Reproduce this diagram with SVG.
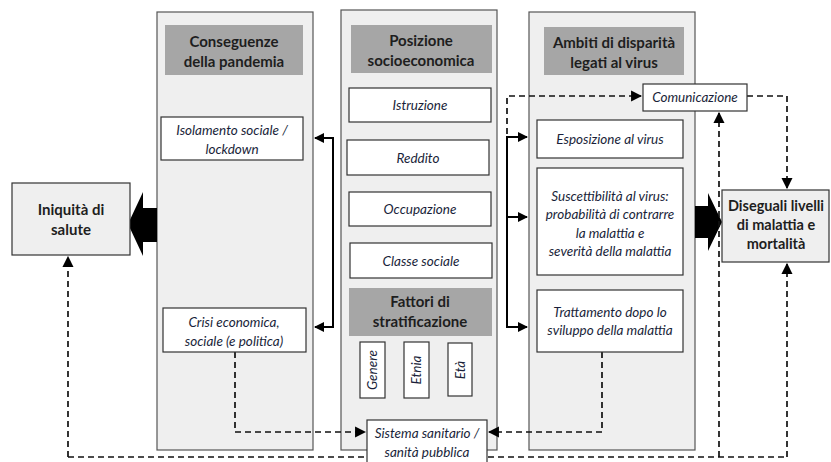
<svg xmlns="http://www.w3.org/2000/svg" width="831" height="462" viewBox="0 0 831 462">
<style>
.col{fill:#efefef;stroke:#555;stroke-width:1.2}
.hdr{fill:#a6a6a6;stroke:none}
.box{fill:#fff;stroke:#333;stroke-width:1.2}
.gbox{fill:#efefef;stroke:#333;stroke-width:1.2}
.ht{font-family:Lato,"Liberation Sans",sans-serif;font-weight:bold;font-size:15px;fill:#1e1e1e;text-anchor:middle}
.it{font-family:Lato,"Liberation Sans",sans-serif;font-style:italic;font-size:13.5px;fill:#1a1f3a;text-anchor:middle}
.sol{fill:none;stroke:#000;stroke-width:2}
.dash{fill:none;stroke:#111;stroke-width:1.7;stroke-dasharray:6,4}
</style>
<defs>
<marker id="ah" viewBox="0 0 10 10" refX="9" refY="5" markerWidth="5" markerHeight="5" orient="auto" markerUnits="strokeWidth">
<path d="M0,0 L10,5 L0,10 z" fill="#000"/>
</marker>
<marker id="dh" viewBox="0 0 10 10" refX="9" refY="5" markerWidth="6.5" markerHeight="6.5" orient="auto" markerUnits="strokeWidth">
<path d="M0,0 L10,5 L0,10 z" fill="#000"/>
</marker>
</defs>
<rect width="831" height="462" fill="#fff"/>

<g id="col1">
<rect class="col" x="157" y="12" width="156" height="438"/>
<rect class="hdr" x="165" y="25" width="138" height="50"/>
<text class="ht" x="234" y="47">Conseguenze</text>
<text class="ht" x="234" y="67">della pandemia</text>
</g>
<g id="col2">
<rect class="col" x="341" y="10" width="156" height="440"/>
<rect class="hdr" x="351" y="25" width="141" height="48"/>
<text class="ht" x="421" y="46">Posizione</text>
<text class="ht" x="421" y="66">socioeconomica</text>
</g>
<g id="col3">
<rect class="col" x="529" y="12" width="166" height="438"/>
<rect class="hdr" x="544" y="27" width="140" height="48"/>
<text class="ht" x="614" y="48">Ambiti di disparità</text>
<text class="ht" x="614" y="68">legati al virus</text>
</g>

<g id="connectors">
<polygon points="157,208 143,208 143,192 128,224 143,256 143,242 157,242" fill="#000"/>
<polygon points="695,206 708,206 708,193 722,222 708,251 708,238 695,238" fill="#000"/>
<path class="sol" d="M333,138 V327"/>
<path class="sol" d="M334,138 H315" marker-end="url(#ah)"/>
<path class="sol" d="M334,327 H315" marker-end="url(#ah)"/>
<path class="sol" d="M507,137 V327"/>
<path class="sol" d="M506,137 H527" marker-end="url(#ah)"/>
<path class="sol" d="M507,217 H527" marker-end="url(#ah)"/>
<path class="sol" d="M506,327 H527" marker-end="url(#ah)"/>
<path class="dash" d="M507,134 V96 H641" marker-end="url(#dh)"/>
<path class="dash" d="M747,96 H787 V188" marker-end="url(#dh)"/>
<path class="dash" d="M68,457 H787"/>
<path class="dash" d="M68,457 V257" marker-end="url(#dh)"/>
<path class="dash" d="M719,457 V113" marker-end="url(#dh)"/>
<path class="dash" d="M787,457 V264" marker-end="url(#dh)"/>
<path class="dash" d="M235,352 V432 H365" marker-end="url(#dh)"/>
<path class="dash" d="M602,352 V432 H489" marker-end="url(#dh)"/>
</g>

<g id="iniquita">
<rect class="gbox" x="12" y="183" width="118" height="72"/>
<text class="ht" x="71" y="215">Iniquità di</text>
<text class="ht" x="71" y="235">salute</text>
</g>
<g id="diseguali">
<rect class="gbox" x="722" y="190" width="107" height="72"/>
<text class="ht" x="776" y="211" style="font-size:14.5px">Diseguali livelli</text>
<text class="ht" x="776" y="230" style="font-size:14.5px">di malattia e</text>
<text class="ht" x="776" y="249" style="font-size:14.5px">mortalità</text>
</g>
<g id="isolamento">
<rect class="box" x="161" y="117" width="142" height="43"/>
<text class="it" x="232" y="135">Isolamento sociale /</text>
<text class="it" x="232" y="154">lockdown</text>
</g>
<g id="crisi">
<rect class="box" x="163" y="308" width="143" height="44"/>
<text class="it" x="234" y="327">Crisi economica,</text>
<text class="it" x="234" y="346">sociale (e politica)</text>
</g>
<g id="istruzione">
<rect class="box" x="349" y="88" width="142" height="34"/>
<text class="it" x="420" y="110">Istruzione</text>
</g>
<g id="reddito">
<rect class="box" x="347" y="140" width="142" height="35"/>
<text class="it" x="418" y="163">Reddito</text>
</g>
<g id="occupazione">
<rect class="box" x="349" y="192" width="142" height="34"/>
<text class="it" x="420" y="214">Occupazione</text>
</g>
<g id="classe">
<rect class="box" x="350" y="243" width="142" height="35"/>
<text class="it" x="421" y="266">Classe sociale</text>
</g>
<g id="fattori">
<rect class="hdr" x="349" y="288" width="143" height="48"/>
<text class="ht" x="420" y="307">Fattori di</text>
<text class="ht" x="420" y="327">stratificazione</text>
</g>
<g id="genere">
<rect class="box" x="360" y="342" width="25" height="56"/>
<text class="it" transform="translate(377,370) rotate(-90)">Genere</text>
</g>
<g id="etnia">
<rect class="box" x="404" y="342" width="25" height="56"/>
<text class="it" transform="translate(421,370) rotate(-90)">Etnia</text>
</g>
<g id="eta">
<rect class="box" x="448" y="343" width="24" height="53"/>
<text class="it" transform="translate(465,370) rotate(-90)">Età</text>
</g>
<g id="sistema">
<rect class="box" x="367" y="420" width="120" height="44"/>
<text class="it" x="427" y="438">Sistema sanitario /</text>
<text class="it" x="427" y="457">sanità pubblica</text>
</g>
<g id="comunicazione">
<rect class="box" x="643" y="84" width="104" height="27"/>
<text class="it" x="695" y="102">Comunicazione</text>
</g>
<g id="esposizione">
<rect class="box" x="537" y="120" width="146" height="38"/>
<text class="it" x="610" y="144">Esposizione al virus</text>
</g>
<g id="suscettibilita">
<rect class="box" x="537" y="168" width="146" height="107"/>
<text class="it" x="610" y="201">Suscettibilità al virus:</text>
<text class="it" x="610" y="219">probabilità di contrarre</text>
<text class="it" x="610" y="238">la malattia e</text>
<text class="it" x="610" y="256">severità della malattia</text>
</g>
<g id="trattamento">
<rect class="box" x="537" y="290" width="146" height="62"/>
<text class="it" x="610" y="317">Trattamento dopo lo</text>
<text class="it" x="610" y="335">sviluppo della malattia</text>
</g>
</svg>
